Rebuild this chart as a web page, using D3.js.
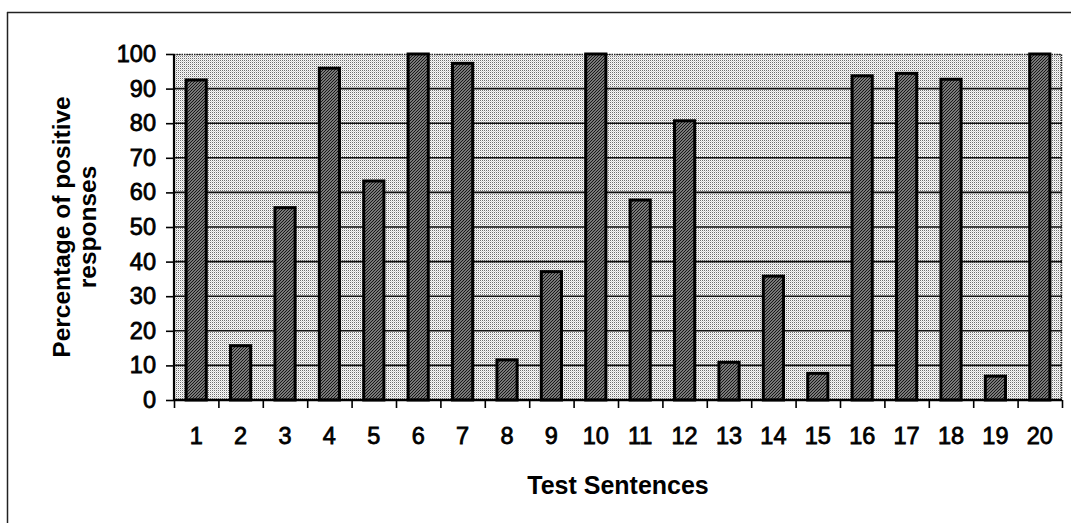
<!DOCTYPE html>
<html>
<head>
<meta charset="utf-8">
<script src="https://cdn.jsdelivr.net/npm/d3@7"></script>
<style>
  html, body { margin: 0; padding: 0; background: #fff; }
  svg { display: block; }
  text { font-family: "Liberation Sans", Arial, sans-serif; fill: #000; }
</style>
</head>
<body>
<script>
// Test sentences and share of positive responses (%)
const sentences = ["1","2","3","4","5","6","7","8","9","10","11","12","13","14","15","16","17","18","19","20"];
const positive = [92.5, 15.7, 55.6, 95.9, 63.3, 100, 97.3, 11.6, 37.1, 100, 57.8, 80.7, 10.9, 35.8, 7.7, 93.7, 94.4, 92.7, 6.9, 100];
const yTicks = [0, 10, 20, 30, 40, 50, 60, 70, 80, 90, 100];
const xTitle = "Test Sentences";
const yTitle = ["Percentage of positive", "responses"];

const W = 1071, H = 523;
const plot = { left: 174, right: 1062, top: 54, bottom: 400 };

const svg = d3.select("body").append("svg").attr("width", W).attr("height", H);
const defs = svg.append("defs");

// Stippled grey background of the plot area
const stip = defs.append("pattern").attr("id", "stipple")
  .attr("patternUnits", "userSpaceOnUse").attr("width", 2).attr("height", 2);
stip.append("rect").attr("width", 2).attr("height", 2).attr("fill", "#fafafa");
stip.append("rect").attr("x", 0).attr("y", 0).attr("width", 1).attr("height", 1).attr("fill", "#6e6e6e");
stip.append("rect").attr("x", 1).attr("y", 1).attr("width", 1).attr("height", 1).attr("fill", "#d4d4d4");

// Diagonal hatching for the bars
const hatch = defs.append("pattern").attr("id", "hatch")
  .attr("patternUnits", "userSpaceOnUse").attr("width", 3).attr("height", 3);
hatch.append("rect").attr("width", 3).attr("height", 3).attr("fill", "#a8a8a8");
hatch.append("path").attr("d", "M0,3 L3,0 M-1,1 L1,-1 M2,4 L4,2")
  .attr("stroke", "#111").attr("stroke-width", 1.2);

// Outer chart frame (left and top edges visible)
svg.append("line").attr("x1", 7.5).attr("x2", 7.5).attr("y1", 12).attr("y2", H)
  .attr("stroke", "#222").attr("stroke-width", 1.5);
svg.append("line").attr("x1", 7).attr("x2", W).attr("y1", 12.5).attr("y2", 12.5)
  .attr("stroke", "#222").attr("stroke-width", 1.5);

const x = d3.scaleBand().domain(sentences).range([plot.left, plot.right]).padding(0);
const xEdge = d3.scaleLinear().domain([0, sentences.length]).range([plot.left, plot.right]);
const y = d3.scaleLinear().domain([0, 100]).range([plot.bottom, plot.top]);

// Plot area
svg.append("rect")
  .attr("x", plot.left).attr("y", plot.top)
  .attr("width", plot.right - plot.left).attr("height", plot.bottom - plot.top)
  .attr("fill", "url(#stipple)");

// Dotted plot border (top and right)
svg.append("path")
  .attr("d", `M${plot.left},${plot.top + 0.5} H${plot.right - 0.5} V${plot.bottom}`)
  .attr("fill", "none").attr("stroke", "#222").attr("stroke-width", 1.5)
  .attr("stroke-dasharray", "1.5,1");

// Horizontal gridlines
svg.append("g").selectAll("line")
  .data(yTicks.filter(d => d > 0 && d < 100))
  .join("line")
  .attr("x1", plot.left).attr("x2", plot.right)
  .attr("y1", d => y(d)).attr("y2", d => y(d))
  .attr("stroke", "#111").attr("stroke-width", 1.6);

// Bars
const barW = x.bandwidth() / 2.2;
svg.append("g").selectAll("rect")
  .data(sentences.map((s, i) => ({ s, v: positive[i] })))
  .join("rect")
  .attr("x", d => x(d.s) + (x.bandwidth() - barW) / 2)
  .attr("y", d => y(d.v))
  .attr("width", barW)
  .attr("height", d => y(0) - y(d.v))
  .attr("fill", "url(#hatch)")
  .attr("stroke", "#000").attr("stroke-width", 3);

// Y axis
const yAxis = svg.append("g").attr("transform", `translate(${plot.left},0)`)
  .call(d3.axisLeft(y).tickValues(yTicks).tickSize(8).tickPadding(10).tickFormat(d3.format("d")));
yAxis.select(".domain").attr("stroke", "#000").attr("stroke-width", 2.2).attr("d", `M0,${plot.top}V${plot.bottom}`);
yAxis.selectAll(".tick line").attr("stroke", "#000").attr("stroke-width", 1.6);
yAxis.selectAll("text").attr("font-size", 23.5).attr("font-family", "Liberation Sans, Arial, sans-serif")
  .attr("fill", "#000").attr("stroke", "#000").attr("stroke-width", 0.8);

// X axis: tick marks at category boundaries
const xTickAxis = svg.append("g").attr("transform", `translate(0,${plot.bottom})`)
  .call(d3.axisBottom(xEdge).tickValues(d3.range(0, sentences.length + 1)).tickSize(8).tickFormat(""));
xTickAxis.select(".domain").attr("stroke", "#000").attr("stroke-width", 2.4).attr("d", `M${plot.left},0H${plot.right}`);
xTickAxis.selectAll(".tick line").attr("stroke", "#000").attr("stroke-width", 1.6);

// X axis: category labels
const xLab = svg.append("g").attr("transform", `translate(0,${plot.bottom})`)
  .call(d3.axisBottom(x).tickSize(0).tickPadding(27));
xLab.select(".domain").remove();
xLab.selectAll("text").attr("font-size", 23.5).attr("font-family", "Liberation Sans, Arial, sans-serif")
  .attr("fill", "#000").attr("stroke", "#000").attr("stroke-width", 0.8);

// Axis titles
svg.append("text")
  .attr("x", (plot.left + plot.right) / 2).attr("y", 494)
  .attr("text-anchor", "middle").attr("font-weight", "bold").attr("font-size", 25)
  .text(xTitle);

const yT = svg.append("text")
  .attr("transform", `translate(70,${(plot.top + plot.bottom) / 2}) rotate(-90)`)
  .attr("text-anchor", "middle").attr("font-weight", "bold").attr("font-size", 24.5);
yT.selectAll("tspan").data(yTitle).join("tspan")
  .attr("x", 0).attr("dy", (d, i) => i === 0 ? 0 : 26)
  .text(d => d);
</script>
</body>
</html>
